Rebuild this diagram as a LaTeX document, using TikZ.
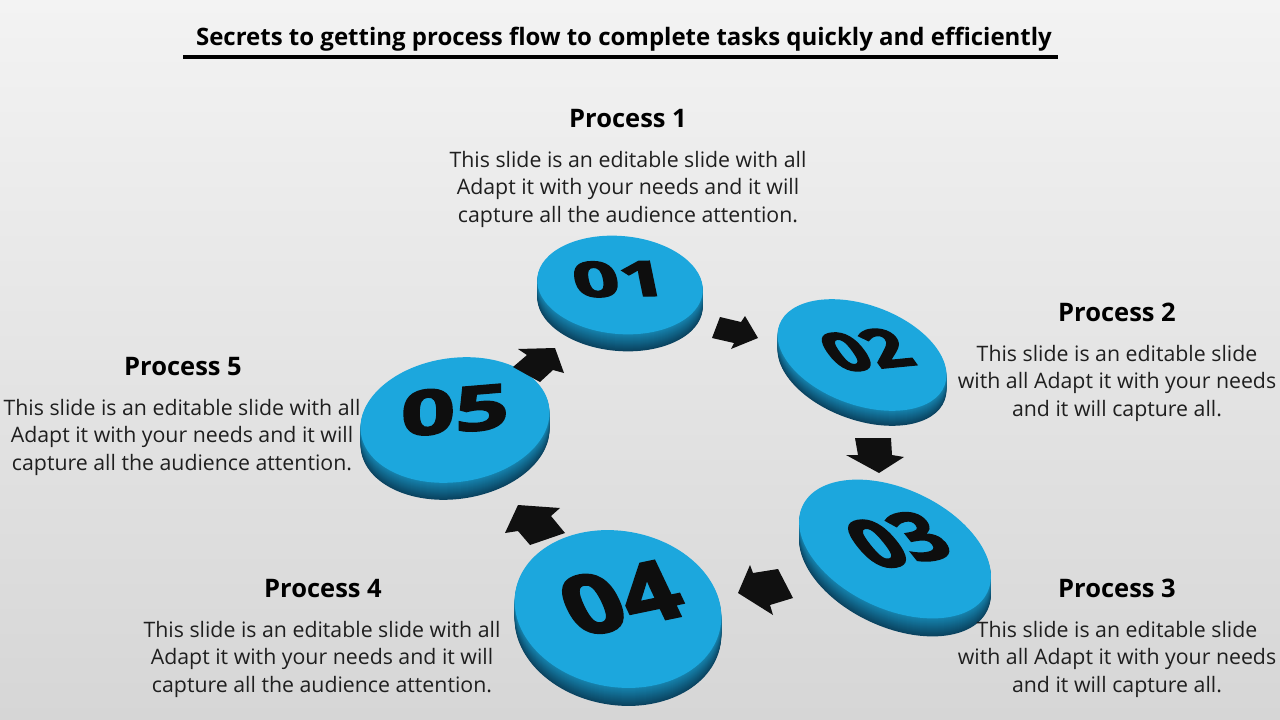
\documentclass[tikz,border=0pt]{standalone}
\usepackage{fontspec}
\setmainfont{Open Sans}
\newfontfamily\numfont[BoldFeatures={FakeBold=2.5}]{Open Sans}
\definecolor{facec}{HTML}{1CA7DD}
\definecolor{rimtop}{HTML}{1683AE}
\definecolor{rimbot}{HTML}{0A4360}
\definecolor{arrc}{HTML}{101010}
\definecolor{numc}{HTML}{0E0E0E}
\definecolor{bgtop}{HTML}{F3F3F3}
\definecolor{bgbot}{HTML}{D6D6D6}
\newcommand\mydisk[6]{%
  \foreach \i in {#6,...,1}{%
    \pgfmathtruncatemacro\p{100*\i/#6}%
    \fill[rimbot!\p!rimtop, shift={(#1,-#2-\i)}, rotate=#5] (0,0) ellipse[x radius=#3, y radius=#4];
  }%
  \fill[facec, shift={(#1,-#2)}, rotate=#5] (0,0) ellipse[x radius=#3, y radius=#4];
}
\begin{document}
\begin{tikzpicture}[x=1pt,y=1pt,
  titlestyle/.style={font=\fontsize{24}{28}\selectfont\bfseries, text=black, inner sep=0pt},
  headstyle/.style={font=\fontsize{25.5}{30}\selectfont\bfseries, text=black, inner sep=0pt},
  bodystyle/.style={font=\fontsize{21.3}{27.5}\selectfont, text=black!88, align=center, inner sep=0pt},
  numstyle/.style={font=\numfont\fontsize{#1}{#1}\selectfont\bfseries, text=numc, inner sep=0pt, transform shape},
  barrow/.style={fill=arrc},
]
\useasboundingbox (0,0) rectangle (1280,-720);
\shade[top color=bgtop, bottom color=bgbot] (0,0) rectangle (1280,-720);

% title
\node[titlestyle, anchor=base] (title) at (624,-45) {Secrets to getting process flow to complete tasks quickly and efficiently};
\coordinate (ulA) at (183,-57);
\coordinate (ulB) at (1058,-57);
\draw[line width=3.5pt] (ulA) -- (ulB);

% disks
\mydisk{620}{285}{83}{49}{-5}{17}
\mydisk{862}{355}{88}{50}{-20}{15}
\mydisk{895}{549}{102}{60}{-25}{18}
\mydisk{618}{609}{104}{78}{-10}{18}
\mydisk{455}{420}{95}{62}{8}{17}

% numbers
\begin{scope}[shift={(619,-279)}, rotate=-5, yscale=0.59]
  \node[numstyle=82, rotate=10] (n1) {01};
\end{scope}
\begin{scope}[shift={(866,-350)}, rotate=-20, yscale=0.57]
  \node[numstyle=82, rotate=40] (n2) {02};
\end{scope}
\begin{scope}[shift={(898,-540)}, rotate=-25, yscale=0.59]
  \node[numstyle=95, rotate=50] (n3) {03};
\end{scope}
\begin{scope}[shift={(621,-598)}, rotate=-10, yscale=0.75]
  \node[numstyle=106, rotate=28] (n4) {04};
\end{scope}
\begin{scope}[shift={(455,-410)}, rotate=8, yscale=0.65]
  \node[numstyle=95, rotate=-5] (n5) {05};
\end{scope}

% block arrows
\fill[barrow] (712,-338) -- (720,-317) -- (741,-322) -- (745,-316) -- (758,-338) -- (731,-349) -- (734,-343) -- cycle;
\fill[barrow] (855,-438) -- (891,-438) -- (892,-455) -- (904,-457) -- (879,-473) -- (846,-455) -- (858,-455) -- cycle;
\fill[barrow] (738,-593) -- (750,-565) -- (753,-573) -- (778,-569) -- (793,-598) -- (770,-605) -- (773,-615) -- cycle;
\fill[barrow] (518,-505) -- (560,-508) -- (551,-516) -- (565,-533) -- (530,-545) -- (518,-531) -- (505,-533) -- cycle;
\fill[barrow] (555,-348) -- (564,-373) -- (553,-370) -- (540,-382) -- (513,-367) -- (527,-355) -- (518,-349) -- cycle;

% headings
\node[headstyle, anchor=base] (h1) at (628,-127) {Process 1};
\node[headstyle, anchor=base] (h2) at (1117,-321) {Process 2};
\node[headstyle, anchor=base] (h3) at (1117,-597) {Process 3};
\node[headstyle, anchor=base] (h4) at (323,-597) {Process 4};
\node[headstyle, anchor=base] (h5) at (183,-375) {Process 5};

% bodies (anchor = baseline of last line)
\node[bodystyle, anchor=base] (b1) at (628,-222) {This slide is an editable slide with all\\Adapt it with your needs and it will\\capture all the audience attention.};
\node[bodystyle, anchor=base] (b2) at (1117,-416) {This slide is an editable slide\\with all Adapt it with your needs\\and it will capture all.};
\node[bodystyle, anchor=base] (b3) at (1117,-692) {This slide is an editable slide\\with all Adapt it with your needs\\and it will capture all.};
\node[bodystyle, anchor=base] (b4) at (322,-692) {This slide is an editable slide with all\\Adapt it with your needs and it will\\capture all the audience attention.};
\node[bodystyle, anchor=base] (b5) at (182,-470) {This slide is an editable slide with all\\Adapt it with your needs and it will\\capture all the audience attention.};
\end{tikzpicture}
\end{document}
